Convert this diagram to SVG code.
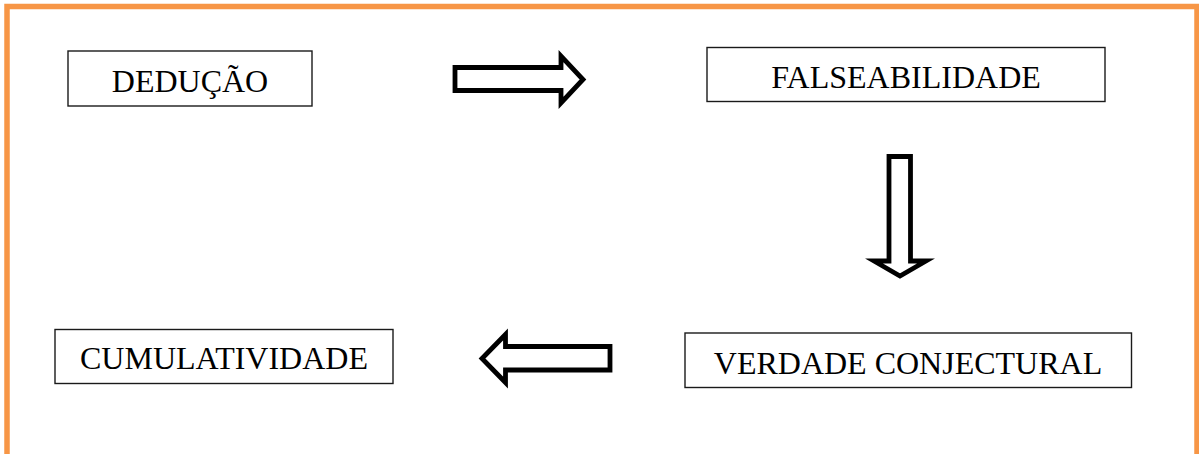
<svg xmlns="http://www.w3.org/2000/svg" width="1199" height="454" viewBox="0 0 1199 454">
  <style>
    .frame { fill: #ffffff; stroke: #f79646; stroke-width: 5.5; }
    .box { fill: #ffffff; stroke: #1a1a1a; stroke-width: 1.4; }
    .label { font-family: "Liberation Serif", "Times New Roman", serif; font-size: 32px; fill: #000000; text-anchor: middle; }
    .arrow { fill: #ffffff; stroke: #000000; stroke-width: 4.8; stroke-linejoin: miter; }
  </style>

  <!-- outer frame, open at the bottom edge -->
  <rect class="frame" x="7" y="6.5" width="1190" height="470"/>

  <g id="node-deducao">
    <rect class="box" x="68" y="51" width="244" height="55"/>
    <text class="label" x="190" y="92">DEDUÇÃO</text>
  </g>

  <g id="node-falseabilidade">
    <rect class="box" x="707" y="47.5" width="398" height="54"/>
    <text class="label" x="906" y="88">FALSEABILIDADE</text>
  </g>

  <g id="node-verdade">
    <rect class="box" x="685" y="333" width="446.5" height="54.5"/>
    <text class="label" x="908" y="373.5">VERDADE CONJECTURAL</text>
  </g>

  <g id="node-cumulatividade">
    <rect class="box" x="55" y="329.5" width="338" height="54"/>
    <text class="label" x="224" y="368.5">CUMULATIVIDADE</text>
  </g>

  <g id="connectors">
    <!-- DEDUÇÃO to FALSEABILIDADE -->
    <polygon class="arrow" points="455,67.5 561,67.5 561,56 583,79.5 561,103 561,90.5 455,90.5"/>
    <!-- FALSEABILIDADE to VERDADE CONJECTURAL -->
    <polygon class="arrow" points="889,156.5 910.5,156.5 910.5,261 926,261 900,276 874,261 889,261"/>
    <!-- VERDADE CONJECTURAL to CUMULATIVIDADE -->
    <polygon class="arrow" points="610,346.5 505.5,346.5 505.5,334.5 482,358.5 505.5,382.5 505.5,370 610,370"/>
  </g>
</svg>
